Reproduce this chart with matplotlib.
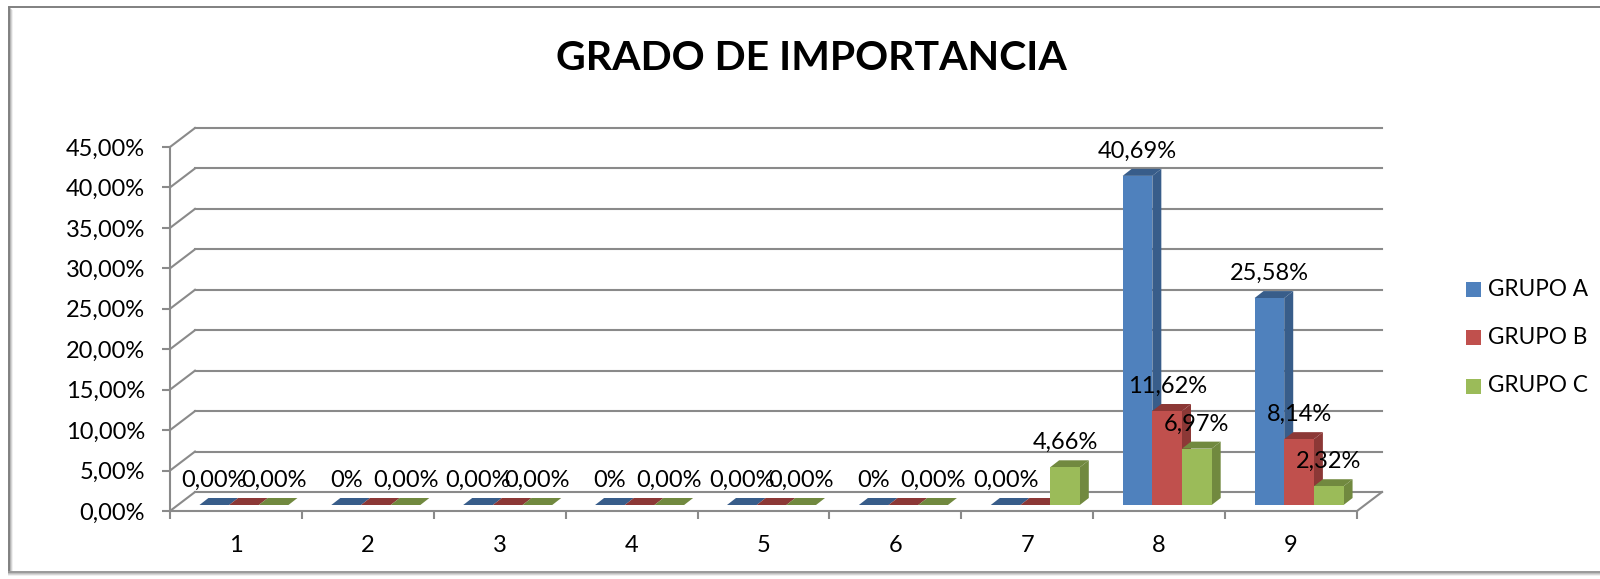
import matplotlib
matplotlib.use("Agg")
import matplotlib.pyplot as plt
from matplotlib.patches import Polygon, Rectangle
from matplotlib.lines import Line2D

plt.rcParams['font.family'] = ['Lato', 'DejaVu Sans']

categorias = ['1', '2', '3', '4', '5', '6', '7', '8', '9']
grupo_a = [0, 0, 0, 0, 0, 0, 0, 40.69, 25.58]
grupo_b = [0, 0, 0, 0, 0, 0, 0, 11.62, 8.14]
grupo_c = [0, 0, 0, 0, 0, 0, 4.66, 6.97, 2.32]
etiq_a = ['0,00%', '0%', '0,00%', '0%', '0,00%', '0%', '0,00%', '40,69%', '25,58%']
etiq_b = [None, None, None, None, None, None, None, '11,62%', '8,14%']
etiq_c = ['0,00%', '0,00%', '0,00%', '0,00%', '0,00%', '0,00%', '4,66%', '6,97%', '2,32%']
series = ['GRUPO A', 'GRUPO B', 'GRUPO C']
y_ticks = [0, 5, 10, 15, 20, 25, 30, 35, 40, 45]

colores = ['#4F81BD', '#C0504D', '#9BBB59']
oscuros = ['#385D8A', '#8C3836', '#71893F']
gris = '#8a8a8a'

W, H = 1600, 579
fig = plt.figure(figsize=(W / 100, H / 100), dpi=100)

# frente del grafico en pixeles
x0, x1 = 170, 1357
y_top, y_bot = 147, 511
ax = fig.add_axes([x0 / W, 1 - y_bot / H, (x1 - x0) / W, (y_bot - y_top) / H])
n = len(categorias)
ax.set_xlim(0, n)
ax.set_ylim(0, 45)

kx = (x1 - x0) / n          # px por categoria
ky = (y_bot - y_top) / 45   # px por punto porcentual
def px(dx, dy):
    return dx / kx, dy / ky

wdx, wdy = px(25, 19)    # profundidad de la pared
bdx, bdy = px(8, 6)      # desplazamiento de las barras
ddx, ddy = px(9, 7)      # profundidad de barra
ancho = 0.225
inicio = 0.1625

# pared del fondo y piso
for yv in y_ticks:
    ax.plot([wdx, n + wdx], [yv + wdy, yv + wdy], color=gris, lw=1.5, clip_on=False, zorder=1)
    ax.plot([0, wdx], [yv, yv + wdy], color=gris, lw=1.5, clip_on=False, zorder=1)
ax.plot([n, n + wdx], [0, wdy], color=gris, lw=1.5, clip_on=False, zorder=1)

# barras 3D
valores = [grupo_a, grupo_b, grupo_c]
z = 3
for i in range(n):
    for s in range(3):
        v = valores[s][i]
        xl = i + inicio + s * ancho + bdx
        xr = xl + ancho
        yb = bdy
        yt = v + bdy
        top = [(xl, yt), (xr, yt), (xr + ddx, yt + ddy), (xl + ddx, yt + ddy)]
        ax.add_patch(Polygon(top, closed=True, facecolor=oscuros[s], edgecolor='none', clip_on=False, zorder=z))
        if v > 0:
            side = [(xr, yb), (xr + ddx, yb + ddy), (xr + ddx, yt + ddy), (xr, yt)]
            ax.add_patch(Polygon(side, closed=True, facecolor=oscuros[s], edgecolor='none', clip_on=False, zorder=z))
            ax.add_patch(Rectangle((xl, yb), ancho, v, facecolor=colores[s], edgecolor='none', clip_on=False, zorder=z + 0.5))
        z += 1

# etiquetas de datos
etiquetas = [etiq_a, etiq_b, etiq_c]
_, gap = px(0, 18)
for i in range(n):
    for s in range(3):
        t = etiquetas[s][i]
        if t is None:
            continue
        xc = i + inicio + (s + 0.5) * ancho + bdx
        ax.text(xc, valores[s][i] + bdy + gap, t, ha='center', va='baseline',
                fontsize=17, color='black', zorder=100, clip_on=False)

# ejes
for sp in ['top', 'right']:
    ax.spines[sp].set_visible(False)
for sp in ['left', 'bottom']:
    ax.spines[sp].set_color(gris)
    ax.spines[sp].set_linewidth(1.5)
    ax.spines[sp].set_zorder(2)
ax.set_facecolor('none')
ax.set_yticks(y_ticks)
ax.set_yticklabels([f'{v:.2f}'.replace('.', ',') + '%' for v in y_ticks], fontsize=17)
ax.tick_params(axis='y', length=6, width=1.5, color=gris, pad=12)
ax.set_xticks([i + 0.5 for i in range(n)])
ax.set_xticklabels(categorias, fontsize=17)
ax.set_xticks(range(n + 1), minor=True)
ax.tick_params(axis='x', which='major', length=0, pad=17)
ax.tick_params(axis='x', which='minor', length=6, width=1.5, color=gris)

# titulo
fig.text(811 / W, 1 - 59 / H, 'GRADO DE IMPORTANCIA', ha='center', va='center',
         fontsize=29.5, fontweight='bold')

# leyenda
ley_y = [289, 337, 386]
for s in range(3):
    fig.add_artist(Rectangle((1466 / W, 1 - (ley_y[s] + 7.5) / H), 15 / W, 15 / H,
                             transform=fig.transFigure, facecolor=colores[s], edgecolor='none'))
    fig.text(1488 / W, 1 - ley_y[s] / H, series[s], ha='left', va='center', fontsize=16.3)

# borde del area del grafico
for k, a in enumerate([1.0, 0.45, 0.25, 0.12]):
    fig.add_artist(Line2D([(9 + k) / W, (9 + k) / W], [1 - (8 + k) / H, 1 - 572 / H],
                          transform=fig.transFigure, color='#808080', lw=1.4, alpha=a))
fig.add_artist(Line2D([9 / W, 1], [1 - 7 / H, 1 - 7 / H], transform=fig.transFigure, color='#808080', lw=1.4))
for k, a in enumerate([1.0, 0.5, 0.3, 0.15]):
    fig.add_artist(Line2D([9 / W, 1], [1 - (572 + k) / H, 1 - (572 + k) / H],
                          transform=fig.transFigure, color='#9a9a9a', lw=1.4, alpha=a))

fig.savefig('out.png', dpi=100)
